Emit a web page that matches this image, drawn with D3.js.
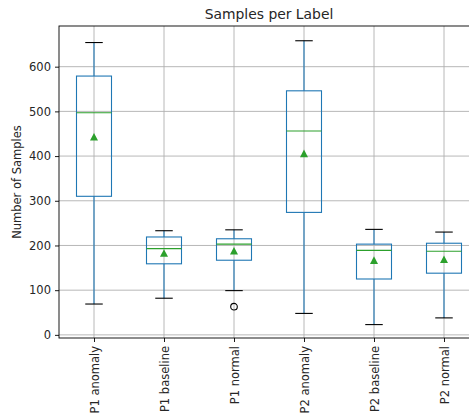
<!DOCTYPE html>
<html>
<head>
<meta charset="utf-8">
<script src="https://cdn.jsdelivr.net/npm/d3@7"></script>
<style>
  body { margin: 0; background: #fff; }
  svg { display: block; font-family: "DejaVu Sans", sans-serif; }
</style>
</head>
<body>
<div id="chart"></div>
<script>
// box stats
var labels = ["P1 anomaly", "P1 baseline", "P1 normal", "P2 anomaly", "P2 baseline", "P2 normal"];
var whiskerLow = [69, 82, 99, 48, 23, 38];
var q1 = [310, 159, 167, 274, 125, 138];
var median = [497, 193, 203, 456, 189, 187];
var q3 = [579, 219, 215, 546, 203, 205];
var whiskerHigh = [654, 233, 235, 658, 236, 230];
var means = [442, 182, 187, 405, 166, 168];
var outliers = [[], [], [63], [], [], []];
var yTicks = [0, 100, 200, 300, 400, 500, 600];

var svgWidth = 469;
var svgHeight = 417;
var margin = { top: 26, left: 59 };
var width = 420;   // axes run past the window on the right, like the original
var height = 312;

var svg = d3.select("#chart").append("svg")
  .attr("width", svgWidth)
  .attr("height", svgHeight);

var g = svg.append("g")
  .attr("transform", `translate(${margin.left}, ${margin.top})`);

var xScale = d3.scaleLinear().domain([0.5, 6.5]).range([0, width]);
var yScale = d3.scaleLinear().domain([-7, 691]).range([height, 0]);
var step = xScale(2) - xScale(1);

// grid
g.selectAll(".hgrid").data(yTicks).enter().append("line")
  .attr("x1", 0).attr("x2", width)
  .attr("y1", d => yScale(d)).attr("y2", d => yScale(d))
  .attr("stroke", "#b0b0b0").attr("stroke-width", 0.9);
g.selectAll(".vgrid").data(labels).enter().append("line")
  .attr("x1", (d, i) => xScale(i + 1)).attr("x2", (d, i) => xScale(i + 1))
  .attr("y1", 0).attr("y2", height)
  .attr("stroke", "#b0b0b0").attr("stroke-width", 0.9);

var boxes = g.selectAll(".box").data(labels).enter().append("g")
  .attr("transform", (d, i) => `translate(${xScale(i + 1)},0)`);

var boxW = step * 0.5;
var capW = step * 0.25;

// whiskers
boxes.append("line")
  .attr("x1", 0).attr("x2", 0)
  .attr("y1", (d, i) => yScale(whiskerLow[i])).attr("y2", (d, i) => yScale(q1[i]))
  .attr("stroke", "#1f77b4").attr("stroke-width", 1.1);
boxes.append("line")
  .attr("x1", 0).attr("x2", 0)
  .attr("y1", (d, i) => yScale(q3[i])).attr("y2", (d, i) => yScale(whiskerHigh[i]))
  .attr("stroke", "#1f77b4").attr("stroke-width", 1.1);

// caps
boxes.append("line")
  .attr("x1", -capW / 2).attr("x2", capW / 2)
  .attr("y1", (d, i) => yScale(whiskerLow[i])).attr("y2", (d, i) => yScale(whiskerLow[i]))
  .attr("stroke", "#000").attr("stroke-width", 1.1);
boxes.append("line")
  .attr("x1", -capW / 2).attr("x2", capW / 2)
  .attr("y1", (d, i) => yScale(whiskerHigh[i])).attr("y2", (d, i) => yScale(whiskerHigh[i]))
  .attr("stroke", "#000").attr("stroke-width", 1.1);

// box
boxes.append("rect")
  .attr("x", -boxW / 2).attr("width", boxW)
  .attr("y", (d, i) => yScale(q3[i]))
  .attr("height", (d, i) => yScale(q1[i]) - yScale(q3[i]))
  .attr("fill", "none").attr("stroke", "#1f77b4").attr("stroke-width", 1.1);

// median
boxes.append("line")
  .attr("x1", -boxW / 2).attr("x2", boxW / 2)
  .attr("y1", (d, i) => yScale(median[i])).attr("y2", (d, i) => yScale(median[i]))
  .attr("stroke", "#2ca02c").attr("stroke-width", 1.1);

// mean triangle
boxes.append("path")
  .attr("d", "M0,-4.3L4,3.3L-4,3.3Z")
  .attr("transform", (d, i) => `translate(0,${yScale(means[i])})`)
  .attr("fill", "#2ca02c");

// fliers
boxes.each(function(d, i) {
  d3.select(this).selectAll("circle").data(outliers[i]).enter().append("circle")
    .attr("cx", 0).attr("cy", v => yScale(v)).attr("r", 3.3)
    .attr("fill", "none").attr("stroke", "#000").attr("stroke-width", 1.1);
});

// axes
var leftAxis = d3.axisLeft(yScale).tickValues(yTicks).tickSize(4).tickPadding(4);
var bottomAxis = d3.axisBottom(xScale).tickValues([1, 2, 3, 4, 5, 6])
  .tickFormat((d) => labels[d - 1]).tickSize(4).tickPadding(4);

var ya = g.append("g").call(leftAxis);
ya.select(".domain").remove();
ya.selectAll("line").attr("stroke-width", 0.9);
ya.selectAll("text").attr("font-size", 11.5).attr("fill", "#262626").attr("font-family", "DejaVu Sans");

var xa = g.append("g").attr("transform", `translate(0,${height})`).call(bottomAxis);
xa.select(".domain").remove();
xa.selectAll("line").attr("stroke-width", 0.9);
xa.selectAll("text")
  .attr("font-size", 11.5).attr("fill", "#262626").attr("font-family", "DejaVu Sans")
  .attr("transform", "rotate(-90)")
  .attr("text-anchor", "end")
  .attr("x", -8).attr("y", 0).attr("dy", "0.35em");

// spines
g.append("rect")
  .attr("width", width).attr("height", height)
  .attr("fill", "none").attr("stroke", "#000").attr("stroke-width", 0.9);

// title and y label
g.append("text")
  .attr("x", width / 2).attr("y", -7)
  .attr("text-anchor", "middle")
  .attr("font-size", 13.9).attr("fill", "#262626")
  .text("Samples per Label");

g.append("text")
  .attr("transform", "rotate(-90)")
  .attr("x", -height / 2).attr("y", -38)
  .attr("text-anchor", "middle")
  .attr("font-size", 11.5).attr("fill", "#262626")
  .text("Number of Samples");
</script>
</body>
</html>
